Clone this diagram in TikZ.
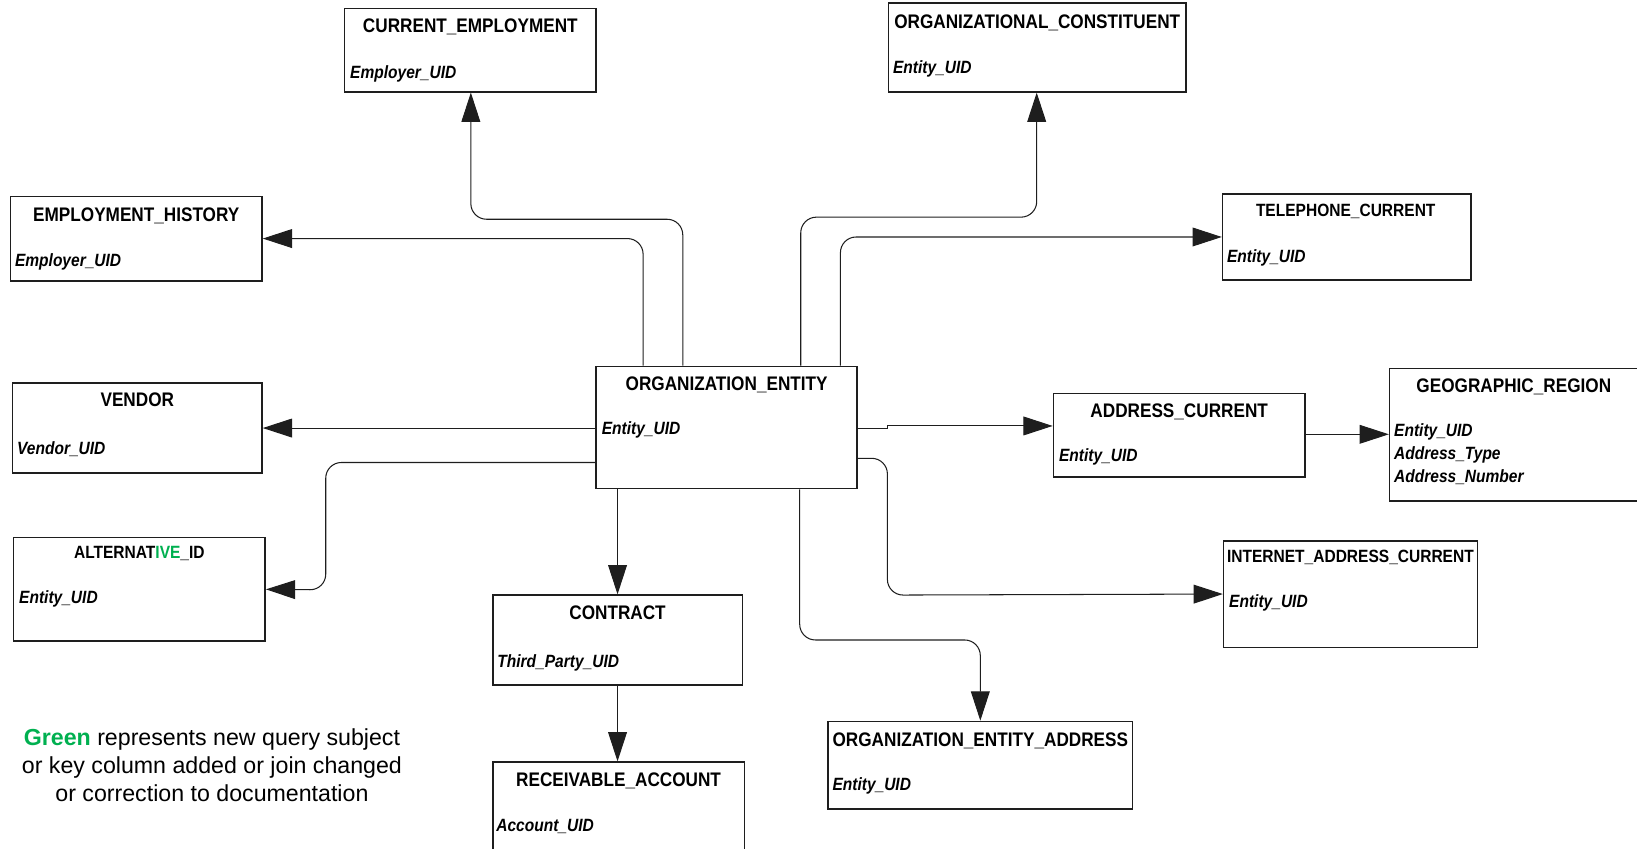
\documentclass[tikz,border=0pt]{standalone}
\usepackage{fontspec}
\setmainfont{Liberation Sans}
\newfontfamily\ernarrow[FakeStretch=0.875]{Liberation Sans}
\usetikzlibrary{arrows.meta,fit}
\definecolor{newgreen}{HTML}{00B050}
\definecolor{lineink}{HTML}{1E1E1E}

\tikzset{
  ebox/.style={draw=lineink, line width=0.7pt, inner sep=0pt},
  etitle/.style={inner sep=0pt, anchor=base, text=black,
    font=\ernarrow\bfseries\fontsize{9.4}{11}\selectfont},
  esmalltitle/.style={etitle,
    font=\ernarrow\bfseries\fontsize{8.5}{11}\selectfont},
  eattr/.style={inner sep=0pt, anchor=base west, text=black, align=left,
    font=\ernarrow\bfseries\itshape\fontsize{8.5}{11}\selectfont},
  link/.style={draw=lineink, line width=0.5pt,
    -{Triangle[length=14pt,width=9pt]}},
  bent/.style={rounded corners=7.5pt},
  legend/.style={inner sep=0pt, anchor=base, align=center,
    font=\fontsize{11.1}{13.5}\selectfont}
}

\begin{document}
\begin{tikzpicture}[x=0.5pt, y=-0.5pt]
\useasboundingbox (0,0) rectangle (1568,813);
\clip (0,0) rectangle (1568,813);

% ---- entity boxes ----
\node[ebox, fit={(330,8) (571,88)}] (ce) {};
\node[etitle] (ceT) at (450.5,31) {CURRENT\_EMPLOYMENT};
\node[eattr] (ceA) at (335,75) {Employer\_UID};

\node[ebox, fit={(851,3) (1136,88)}] (oc) {};
\node[etitle] (ocT) at (993.5,27) {ORGANIZATIONAL\_CONSTITUENT};
\node[eattr] (ocA) at (855,70) {Entity\_UID};

\node[ebox, fit={(10,188) (251,269)}] (eh) {};
\node[etitle] (ehT) at (130.5,212) {EMPLOYMENT\_HISTORY};
\node[eattr] (ehA) at (14,255) {Employer\_UID};

\node[ebox, fit={(1171,186) (1409,268)}] (tc) {};
\node[esmalltitle] (tcT) at (1289,207) {TELEPHONE\_CURRENT};
\node[eattr] (tcA) at (1175,251) {Entity\_UID};

\node[ebox, fit={(12,367) (251,453)}] (vendor) {};
\node[etitle] (vendorT) at (131.5,389) {VENDOR};
\node[eattr] (vendorA) at (16,435) {Vendor\_UID};

\node[ebox, fit={(571,351) (821,468)}] (oe) {};
\node[etitle] (oeT) at (696,374) {ORGANIZATION\_ENTITY};
\node[eattr] (oeA) at (576,416.5) {Entity\_UID};

\node[ebox, fit={(1009,377) (1250,457)}] (ac) {};
\node[etitle] (acT) at (1129.5,400) {ADDRESS\_CURRENT};
\node[eattr] (acA) at (1014,442) {Entity\_UID};

\node[ebox, fit={(1331,353) (1580,480)}] (gr) {};
\node[etitle] (grT) at (1450,376) {GEOGRAPHIC\_REGION};
\node[eattr] (grA) at (1335,462) {Entity\_UID\\Address\_Type\\Address\_Number};

\node[ebox, fit={(13,515) (254,614)}] (ai) {};
\node[esmalltitle] (aiT) at (133.5,535) {ALTERNAT{\color{newgreen}IVE}\_ID};
\node[eattr] (aiA) at (18,578) {Entity\_UID};

\node[ebox, fit={(472,570) (711,656)}] (contract) {};
\node[etitle] (contractT) at (591.5,593) {CONTRACT};
\node[eattr] (contractA) at (476,639) {Third\_Party\_UID};

\node[ebox, fit={(1172,518) (1415,620)}] (iac) {};
\node[esmalltitle] (iacT) at (1293.5,539) {INTERNET\_ADDRESS\_CURRENT};
\node[eattr] (iacA) at (1177,582) {Entity\_UID};

\node[ebox, fit={(793,691) (1085,775)}] (oea) {};
\node[etitle] (oeaT) at (939,715) {ORGANIZATION\_ENTITY\_ADDRESS};
\node[eattr] (oeaA) at (797,757) {Entity\_UID};

\node[ebox, fit={(472,730) (713,840)}] (ra) {};
\node[etitle] (raT) at (592.5,753) {RECEIVABLE\_ACCOUNT};
\node[eattr] (raA) at (475,796) {Account\_UID};

% ---- relationships ----
\draw[link, bent] (oe.north -| 654,0) |- (451,210) -- (ce.south -| 451,0);
\draw[link, bent] (oe.north -| 616,0) |- (eh.east);
\draw[link, bent] (oe.north -| 767,0) |- (993,208) -- (oc.south -| 993,0);
\draw[link, bent] (oe.north -| 805,0) |- (tc.west);
\draw[link] (oe.west |- vendor.east) -- (vendor.east);
\draw[link, bent] (oe.west |- 0,443) -| (312,565) -- (ai.east);
\draw[link] (oe.south -| contract.north) -- (contract.north);
\draw[link] (contract.south) -- (ra.north -| contract.south);
\draw[link] (oe.east |- 0,410) -- (850,410) -- (850,408) -- (ac.west |- 0,408);
\draw[link] (ac.east |- 0,416) -- (gr.west |- 0,416);
\draw[link, bent] (oe.east |- 0,439) -| (850,570) -- (iac.west);
\draw[link, bent] (oe.south -| 766,0) |- (939,613) -- (oea.north -| 939,0);

% ---- legend ----
\node[legend] (note) at (203,768)
  {{\bfseries\color{newgreen}Green} represents new query subject\\
   or key column added or join changed\\
   or correction to documentation};
\end{tikzpicture}
\end{document}
